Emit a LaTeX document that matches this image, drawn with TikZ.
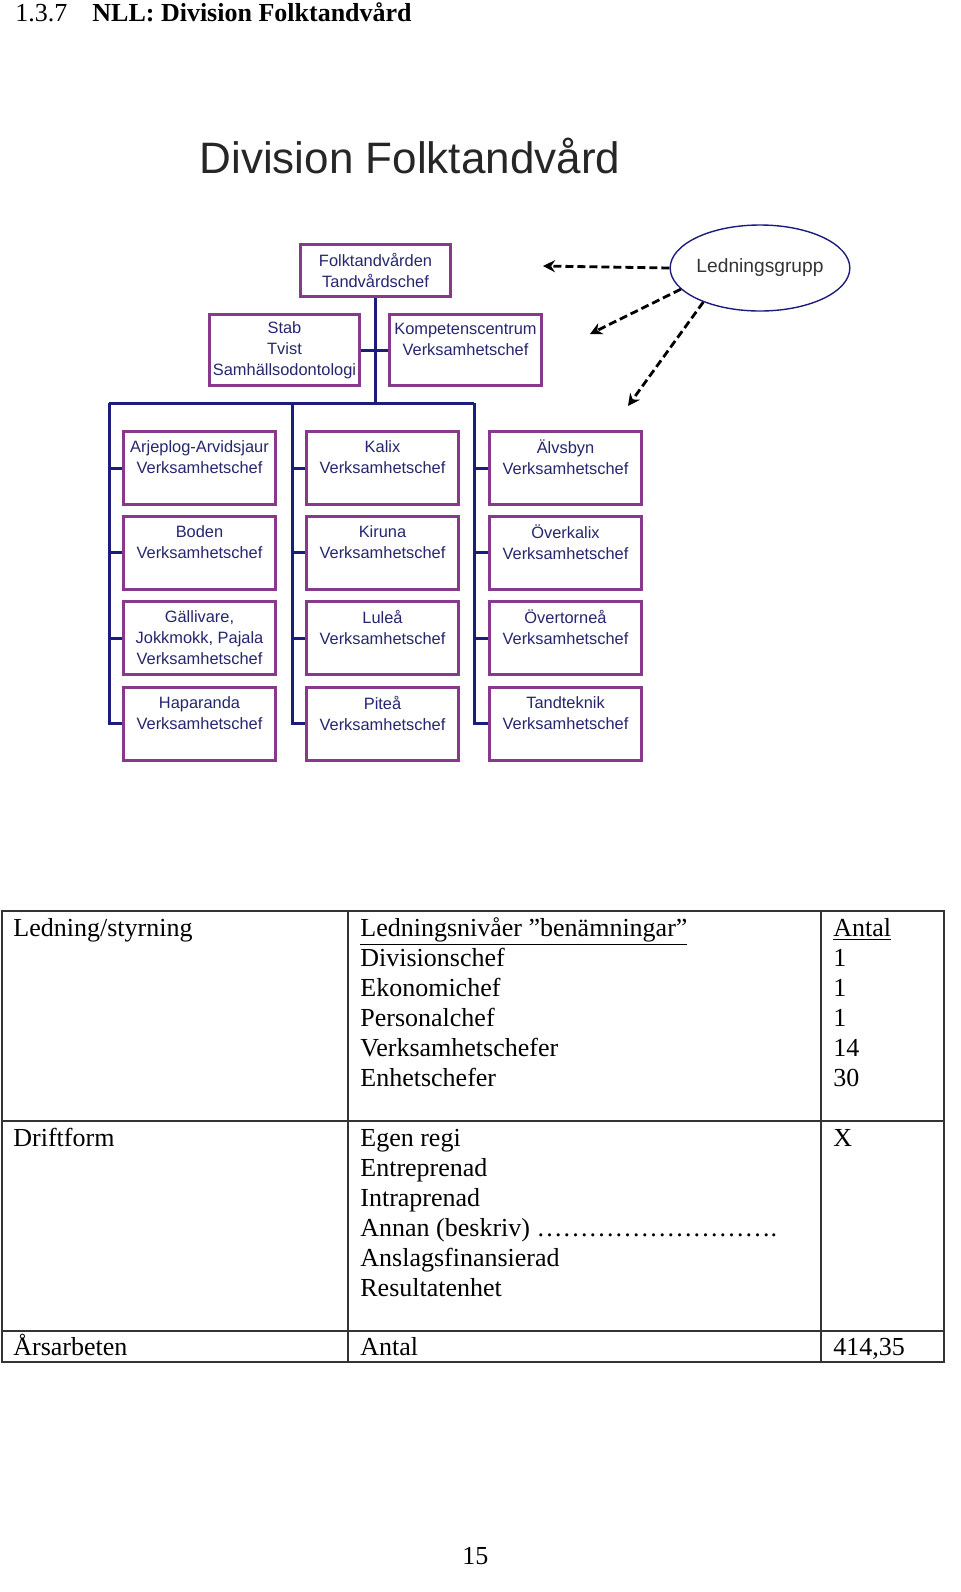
\documentclass[tikz,border=0pt]{standalone}
\usepackage{fontspec}
\setmainfont{Liberation Serif}
\newfontfamily\chartfont{Liberation Sans}
\usetikzlibrary{arrows.meta,shapes.geometric}
\definecolor{boxpurple}{HTML}{873A8C}
\definecolor{linenavy}{HTML}{1C1C7C}
\definecolor{textnavy}{HTML}{26266E}
\definecolor{tablegray}{HTML}{333333}
\begin{document}
\begin{tikzpicture}[x=0.5pt,y=-0.5pt,
  orgbox/.style={draw=boxpurple, line width=1.5pt, fill=white, minimum width=76pt, minimum height=36.5pt, inner sep=0pt, align=center, text=textnavy, font=\chartfont\fontsize{8.2}{10.5}\selectfont},
  conn/.style={draw=linenavy, line width=1.5pt},
  dasharrow/.style={draw=black, line width=1.4pt, dash pattern=on 4pt off 2pt, -{Stealth[length=6pt,width=6pt]}},
  cell/.style={anchor=base west, inner sep=0pt, font=\fontsize{13}{15}\selectfont, text=black},
  rule/.style={draw=tablegray, line width=0.8pt}
]
\useasboundingbox (0,0) rectangle (960,1592);

% page header
\node[cell] (hnum) at (15,21) {1.3.7};
\node[cell, font=\fontsize{13}{15}\selectfont\bfseries] (htitle) at (92,21) {NLL: Division Folktandvård};

% chart title
\node[font=\chartfont\fontsize{22}{26}\selectfont, text=black!85, inner sep=0pt] (ctitle) at (410,156) {Division Folktandvård};

% top boxes
\node[orgbox, minimum width=75pt, minimum height=26pt] (top) at (375.5,270.5) {Folktandvården\\Tandvårdschef};
\node[orgbox, minimum width=75pt, minimum height=35.5pt] (stab) at (284.5,350) {Stab\\Tvist\\Samhällsodontologi};
\node[orgbox, minimum height=35.5pt] (komp) at (465.5,350) {Kompetenscentrum\\Verksamhetschef\\\mbox{}};

% column 1
\node[orgbox] (arj) at (199.5,468) {Arjeplog-Arvidsjaur\\Verksamhetschef\\\mbox{}};
\node[orgbox] (bod) at (199.5,552.5) {Boden\\Verksamhetschef\\\mbox{}};
\node[orgbox] (gal) at (199.5,638) {Gällivare,\\Jokkmokk, Pajala\\Verksamhetschef};
\node[orgbox] (hap) at (199.5,723.5) {Haparanda\\Verksamhetschef\\\mbox{}};
% column 2
\node[orgbox] (kal) at (382.5,468) {Kalix\\Verksamhetschef\\\mbox{}};
\node[orgbox] (kir) at (382.5,552.5) {Kiruna\\Verksamhetschef\\\mbox{}};
\node[orgbox] (lul) at (382.5,638) {Luleå\\Verksamhetschef\\\mbox{}};
\node[orgbox] (pit) at (382.5,723.5) {Piteå\\Verksamhetschef\\\mbox{}};
% column 3
\node[orgbox] (alv) at (565.5,468) {Älvsbyn\\Verksamhetschef\\\mbox{}};
\node[orgbox] (ovk) at (565.5,552.5) {Överkalix\\Verksamhetschef\\\mbox{}};
\node[orgbox] (ovt) at (565.5,638) {Övertorneå\\Verksamhetschef\\\mbox{}};
\node[orgbox] (tan) at (565.5,723.5) {Tandteknik\\Verksamhetschef\\\mbox{}};

% connectors
\coordinate (bl) at (109,403);
\coordinate (bm) at (292,403);
\coordinate (br) at (474,403);
\draw[conn] (top.south) -- (top.south |- bl);
\draw[conn] (stab.east) -- (komp.west);
\draw[conn] (bl) -- (br);
\draw[conn] (bl) |- (hap.west);
\draw[conn] (bm) |- (pit.west);
\draw[conn] (br) |- (tan.west);
\foreach \n in {arj,bod,gal}{\draw[conn] (\n.west) -- (\n.west -| bl);}
\foreach \n in {kal,kir,lul}{\draw[conn] (\n.west) -- (\n.west -| bm);}
\foreach \n in {alv,ovk,ovt}{\draw[conn] (\n.west) -- (\n.west -| br);}

% Ledningsgrupp
\node[ellipse, draw=linenavy, line width=0.7pt, minimum width=83pt, minimum height=43pt, inner sep=0pt, font=\chartfont\fontsize{9.6}{11}\selectfont, text=black!80] (lg) at (760,268) {Ledningsgrupp};
\coordinate (a1) at (543,266);
\coordinate (a2) at (590,334);
\coordinate (a3) at (628,406);
\draw[dasharrow] (lg.west) -- (a1);
\draw[dasharrow] (lg.195) -- (a2);
\draw[dasharrow] (lg.211) -- (a3);

% table
\draw[rule] (2,911) rectangle (944,1362);
\draw[rule] (2,1121) -- (944,1121);
\draw[rule] (2,1331) -- (944,1331);
\draw[rule] (348,911) -- (348,1362);
\draw[rule] (821,911) -- (821,1362);

\node[cell] (c11) at (13,936) {Ledning/styrning};
\foreach \t [count=\i from 0] in {\underline{Ledningsnivåer ”benämningar”},Divisionschef,Ekonomichef,Personalchef,Verksamhetschefer,Enhetschefer}
  {\node[cell] (m1\i) at (360,936+30*\i) {\t};}
\foreach \t [count=\i from 0] in {\underline{Antal},1,1,1,14,30}
  {\node[cell] (n1\i) at (833,936+30*\i) {\t};}

\node[cell] (c21) at (13,1146) {Driftform};
\foreach \t [count=\i from 0] in {Egen regi,Entreprenad,Intraprenad,Annan (beskriv) ……………………….,Anslagsfinansierad,Resultatenhet}
  {\node[cell] (m2\i) at (360,1146+30*\i) {\t};}
\node[cell] (n20) at (833,1146) {X};

\node[cell] (c31) at (13,1355) {Årsarbeten};
\node[cell] (m30) at (360,1355) {Antal};
\node[cell] (n30) at (833,1355) {414,35};

% page number
\node[cell] (pg) at (462,1564) {15};
\end{tikzpicture}
\end{document}
